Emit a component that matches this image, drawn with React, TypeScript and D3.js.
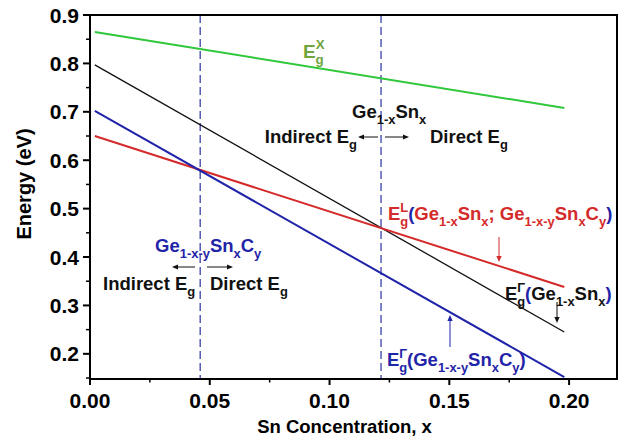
import * as d3 from 'd3';
import React from 'react';

// Sn fraction at the two ends of every curve
const snEnds = [0.002, 0.198];
// band gaps (eV) at those ends
const egX = [0.865, 0.708];
const egGammaGeSn = [0.797, 0.245];
const egL = [0.65, 0.338];
const egGammaGeSnC = [0.702, 0.152];
// direct/indirect crossovers
const crossovers = [0.046, 0.1215];

const xTicks = [0, 0.05, 0.1, 0.15, 0.2];
const xMinor = [0.025, 0.075, 0.125, 0.175];
const yTicks = [0.2, 0.3, 0.4, 0.5, 0.6, 0.7, 0.8, 0.9];
const yMinor = [0.15, 0.25, 0.35, 0.45, 0.55, 0.65, 0.75, 0.85];

const W = 623;
const H = 443;
const m = { left: 90, right: 6, top: 15, bottom: 64 };
const FONT = "'Liberation Sans', Arial, sans-serif";

const GREEN = '#2fc83a';
const OLIVE = '#6fa53a';
const RED = '#d42a2a';
const BLUE = '#1f24a8';
const DASH = '#3a42a6';

type Part = { t: string; s?: 'sub' | 'sup'; c?: string; back?: number };

// text with sub/superscripts done by tspans
const Rich = ({ x, y, parts, color, size = 18.5, anchor = 'start' }: any) => {
  let shift = 0;
  const small = size * 0.7;
  return (
    <text x={x} y={y} fill={color} fontSize={size} fontWeight="bold" fontFamily={FONT} textAnchor={anchor}>
      {parts.map((p: Part, i: number) => {
        let target = 0;
        if (p.s === 'sub') target = size * 0.3;
        if (p.s === 'sup') target = -size * 0.45;
        const dy = target - shift;
        shift = target;
        return (
          <tspan key={i} dy={dy} dx={p.back ? -p.back : 0} fontSize={p.s ? small : size} fill={p.c || color}>
            {p.t}
          </tspan>
        );
      })}
    </text>
  );
};

const Arrow = ({ x1, y1, x2, y2, color }: any) => {
  const ang = Math.atan2(y2 - y1, x2 - x1);
  const L = 6;
  const Wd = 2.6;
  const bx = x2 - L * Math.cos(ang);
  const by = y2 - L * Math.sin(ang);
  const px = -Math.sin(ang) * Wd;
  const py = Math.cos(ang) * Wd;
  return (
    <g>
      <line x1={x1} y1={y1} x2={bx} y2={by} stroke={color} strokeWidth={1} />
      <path d={`M${x2},${y2}L${bx + px},${by + py}L${bx - px},${by - py}Z`} fill={color} />
    </g>
  );
};

export default function App() {
  const x = d3.scaleLinear().domain([0, 0.22]).range([m.left, W - m.right]);
  const y = d3.scaleLinear().domain([0.148, 0.9]).range([H - m.bottom, m.top]);
  const line = d3
    .line<number>()
    .x((_, i) => x(snEnds[i]))
    .y((d) => y(d));

  const x0 = m.left;
  const y0 = H - m.bottom;

  const series = [
    { v: egX, c: GREEN, w: 2 },
    { v: egGammaGeSn, c: '#111', w: 1.3 },
    { v: egL, c: RED, w: 2 },
    { v: egGammaGeSnC, c: BLUE, w: 2 },
  ];

  return (
    <svg width={W} height={H} style={{ position: 'absolute', left: 0, top: 0, background: '#fff' }}>
      {crossovers.map((c) => (
        <line key={c} x1={x(c)} x2={x(c)} y1={m.top} y2={y0} stroke={DASH} strokeWidth={1.3} strokeDasharray="8,4" />
      ))}
      {series.map((s, i) => (
        <path key={i} d={line(s.v) || ''} fill="none" stroke={s.c} strokeWidth={s.w} />
      ))}

      {/* frame */}
      <rect x={m.left} y={m.top} width={W - m.left - m.right} height={y0 - m.top} fill="none" stroke="#000" strokeWidth={2} />

      {/* x axis */}
      {xTicks.map((t) => (
        <g key={t}>
          <line x1={x(t)} x2={x(t)} y1={y0} y2={y0 + 6} stroke="#000" strokeWidth={2} />
          <text x={x(t)} y={408} textAnchor="middle" fontSize={21} fontWeight="bold" fontFamily={FONT}>
            {d3.format('.2f')(t)}
          </text>
        </g>
      ))}
      {xMinor.map((t) => (
        <line key={t} x1={x(t)} x2={x(t)} y1={y0} y2={y0 + 3.5} stroke="#000" strokeWidth={1.5} />
      ))}

      {/* y axis */}
      {yTicks.map((t) => (
        <g key={t}>
          <line x1={x0 - 7} x2={x0} y1={y(t)} y2={y(t)} stroke="#000" strokeWidth={2} />
          <text x={79} y={y(t) + 7.5} textAnchor="end" fontSize={21} fontWeight="bold" fontFamily={FONT}>
            {d3.format('.1f')(t)}
          </text>
        </g>
      ))}
      {yMinor.map((t) => (
        <line key={t} x1={x0 - 4} x2={x0} y1={y(t)} y2={y(t)} stroke="#000" strokeWidth={1.5} />
      ))}

      <text x={344.5} y={433} textAnchor="middle" fontSize={18.5} fontWeight="bold" fontFamily={FONT}>
        Sn Concentration, x
      </text>
      <text transform={`translate(31,${184}) rotate(-90)`} textAnchor="middle" fontSize={20} fontWeight="bold" fontFamily={FONT}>
        Energy (eV)
      </text>

      {/* annotations */}
      <Rich x={303} y={58} color={OLIVE} size={19} parts={[{ t: 'E' }, { t: 'X', s: 'sup' }, { t: 'g', s: 'sub', back: 9 }]} />

      <Rich x={352} y={118} color="#111" parts={[{ t: 'Ge' }, { t: '1-x', s: 'sub' }, { t: 'Sn' }, { t: 'x', s: 'sub' }]} />
      <Rich x={357} y={143} anchor="end" color="#111" parts={[{ t: 'Indirect E' }, { t: 'g', s: 'sub' }]} />
      <Rich x={430} y={143} color="#111" parts={[{ t: 'Direct E' }, { t: 'g', s: 'sub' }]} />
      <Arrow x1={378} y1={137} x2={358} y2={137} color="#111" />
      <Arrow x1={385} y1={137} x2={409} y2={137} color="#111" />

      <Rich x={155} y={252} color={BLUE} parts={[{ t: 'Ge' }, { t: '1-x-y', s: 'sub' }, { t: 'Sn' }, { t: 'x', s: 'sub' }, { t: 'C' }, { t: 'y', s: 'sub' }]} />
      <Arrow x1={195} y1={267} x2={172} y2={267} color="#111" />
      <Arrow x1={207} y1={267} x2={233} y2={267} color="#111" />
      <Rich x={103} y={290} color="#111" parts={[{ t: 'Indirect E' }, { t: 'g', s: 'sub' }]} />
      <Rich x={210} y={290} color="#111" parts={[{ t: 'Direct E' }, { t: 'g', s: 'sub' }]} />

      <Rich
        x={388}
        y={220}
        color={RED}
        parts={[
          { t: 'E' },
          { t: 'L', s: 'sup' },
          { t: 'g', s: 'sub', back: 8 },
          { t: '(', c: BLUE },
          { t: 'Ge' },
          { t: '1-x', s: 'sub' },
          { t: 'Sn' },
          { t: 'x', s: 'sub' },
          { t: '; Ge' },
          { t: '1-x-y', s: 'sub' },
          { t: 'Sn' },
          { t: 'x', s: 'sub' },
          { t: 'C' },
          { t: 'y', s: 'sub' },
          { t: ')', c: BLUE },
        ]}
      />
      <Arrow x1={499} y1={237} x2={499} y2={262} color={RED} />

      <Rich
        x={505}
        y={300}
        color="#111"
        parts={[
          { t: 'E' },
          { t: 'Γ', s: 'sup' },
          { t: 'g', s: 'sub', back: 8 },
          { t: '(', c: BLUE },
          { t: 'Ge' },
          { t: '1-x', s: 'sub' },
          { t: 'Sn' },
          { t: 'x', s: 'sub' },
          { t: ')', c: BLUE },
        ]}
      />
      <Arrow x1={557} y1={302} x2={557} y2={323} color="#111" />

      <Rich
        x={387}
        y={366}
        color={BLUE}
        parts={[
          { t: 'E' },
          { t: 'Γ', s: 'sup' },
          { t: 'g', s: 'sub', back: 8 },
          { t: '(' },
          { t: 'Ge' },
          { t: '1-x-y', s: 'sub' },
          { t: 'Sn' },
          { t: 'x', s: 'sub' },
          { t: 'C' },
          { t: 'y', s: 'sub' },
          { t: ')' },
        ]}
      />
      <Arrow x1={450} y1={347} x2={450} y2={315} color={BLUE} />
    </svg>
  );
}
